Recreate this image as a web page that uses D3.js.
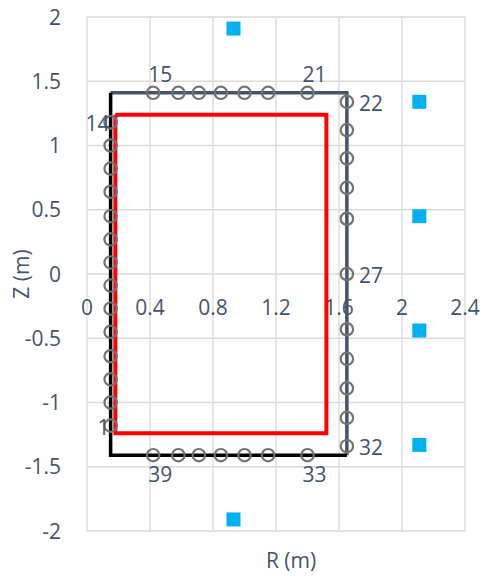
<!DOCTYPE html>
<html>
<head>
<meta charset="utf-8">
<script src="https://cdnjs.cloudflare.com/ajax/libs/d3/7.8.5/d3.min.js"></script>
<style>
  body { margin: 0; background: #fff; }
  text { font-family: "Open Sans", "Noto Sans", sans-serif; fill: #44546a; }
</style>
</head>
<body>
<svg></svg>
<script>
var width = 484, height = 579;

// axis ticks
var xTicks = [0, 0.4, 0.8, 1.2, 1.6, 2, 2.4];
var yTicks = [-2, -1.5, -1, -0.5, 0, 0.5, 1, 1.5, 2];

// vessel wall outline (two series) and plasma box
var wallTop = [[0.15, 1.41], [1.65, 1.41], [1.65, -1.41]];
var wallBottom = [[0.15, 1.41], [0.15, -1.41], [1.65, -1.41]];
var plasmaBox = [[0.18, 1.24], [1.52, 1.24], [1.52, -1.24], [0.18, -1.24], [0.18, 1.24]];

// probes: [id, R, Z]
var probesLeft = [
  [1, 0.15, -1.18], [2, 0.15, -1.0], [3, 0.15, -0.82], [4, 0.15, -0.64], [5, 0.15, -0.45],
  [6, 0.15, -0.27], [7, 0.15, -0.09], [8, 0.15, 0.09], [9, 0.15, 0.27], [10, 0.15, 0.45],
  [11, 0.15, 0.64], [12, 0.15, 0.82], [13, 0.15, 1.0], [14, 0.15, 1.18]
];
var probesTop = [
  [15, 0.42, 1.41], [16, 0.58, 1.41], [17, 0.71, 1.41], [18, 0.85, 1.41],
  [19, 1.0, 1.41], [20, 1.15, 1.41], [21, 1.40, 1.41]
];
var probesRight = [
  [22, 1.65, 1.34], [23, 1.65, 1.12], [24, 1.65, 0.90], [25, 1.65, 0.67], [26, 1.65, 0.43],
  [27, 1.65, 0], [28, 1.65, -0.43], [29, 1.65, -0.66], [30, 1.65, -0.89], [31, 1.65, -1.12],
  [32, 1.65, -1.34]
];
var probesBottom = [
  [33, 1.40, -1.41], [34, 1.15, -1.41], [35, 1.0, -1.41], [36, 0.85, -1.41],
  [37, 0.71, -1.41], [38, 0.58, -1.41], [39, 0.42, -1.41]
];

// coils
var coils = [[0.93, 1.91], [2.11, 1.34], [2.11, 0.45], [2.11, -0.44], [2.11, -1.33], [0.93, -1.91]];

// which probes get a label
var labelled = [1, 14, 15, 21, 22, 27, 32, 33, 39];

var x = d3.scaleLinear().domain([0, 2.4]).range([87, 465]);
var y = d3.scaleLinear().domain([-2, 2]).range([531, 17]);

var svg = d3.select("svg").attr("width", width).attr("height", height);

// grid
svg.append("g").selectAll("line").data(xTicks).enter().append("line")
  .attr("x1", function(d) { return x(d); }).attr("x2", function(d) { return x(d); })
  .attr("y1", y(2)).attr("y2", y(-2))
  .attr("stroke", "#d9d9d9").attr("stroke-width", 1.3);
svg.append("g").selectAll("line").data(yTicks).enter().append("line")
  .attr("y1", function(d) { return y(d); }).attr("y2", function(d) { return y(d); })
  .attr("x1", x(0)).attr("x2", x(2.4))
  .attr("stroke", "#d9d9d9").attr("stroke-width", 1.3);

// tick labels
svg.append("g").selectAll("text").data(yTicks).enter().append("text")
  .attr("x", 61).attr("y", function(d) { return y(d); })
  .attr("dy", "0.36em").attr("text-anchor", "end")
  .style("font-size", "21px")
  .text(function(d) { return d; });
svg.append("g").selectAll("text").data(xTicks).enter().append("text")
  .attr("x", function(d) { return x(d); }).attr("y", y(0) + 41)
  .attr("text-anchor", "middle")
  .style("font-size", "21px")
  .text(function(d) { return d; });

// axis titles
svg.append("text").attr("x", 291).attr("y", 568).attr("text-anchor", "middle")
  .style("font-size", "21px").text("R (m)");
svg.append("text").attr("transform", "translate(29," + y(0) + ") rotate(-90)")
  .attr("text-anchor", "middle").style("font-size", "21px").text("Z (m)");

var line = d3.line()
  .x(function(d) { return x(d[0]); })
  .y(function(d) { return y(d[1]); });

svg.append("path").datum(plasmaBox).attr("d", line)
  .attr("fill", "none").attr("stroke", "#ff0000").attr("stroke-width", 4);
svg.append("path").datum(wallTop).attr("d", line)
  .attr("fill", "none").attr("stroke", "#44546a").attr("stroke-width", 3.5);
svg.append("path").datum(wallBottom).attr("d", line)
  .attr("fill", "none").attr("stroke", "#000000").attr("stroke-width", 3.5);

var probes = probesLeft.concat(probesTop, probesRight, probesBottom);

svg.append("g").selectAll("circle").data(probes).enter().append("circle")
  .attr("cx", function(d) { return x(d[1]); })
  .attr("cy", function(d) { return y(d[2]); })
  .attr("r", 6.2)
  .attr("fill", "none").attr("stroke", "#767171").attr("stroke-width", 2.2);

svg.append("g").selectAll("rect").data(coils).enter().append("rect")
  .attr("x", function(d) { return x(d[0]) - 7; })
  .attr("y", function(d) { return y(d[1]) - 7; })
  .attr("width", 14).attr("height", 14)
  .attr("fill", "#00b0f0");

// data labels: left side -> left, top -> above, right -> right, bottom -> below
svg.append("g").selectAll("text")
  .data(probes.filter(function(d) { return labelled.indexOf(d[0]) >= 0; }))
  .enter().append("text")
  .style("font-size", "21px")
  .attr("text-anchor", function(d) {
    if (d[0] <= 14) return "end";
    if (d[0] >= 22 && d[0] <= 32) return "start";
    return "middle";
  })
  .attr("x", function(d) {
    var px = x(d[1]);
    if (d[0] <= 14) return px - 1;
    if (d[0] >= 22 && d[0] <= 32) return px + 12;
    return px + 7;
  })
  .attr("y", function(d) {
    var py = y(d[2]);
    if (d[0] >= 15 && d[0] <= 21) return py - 11;
    if (d[0] >= 33) return py + 27;
    return py + 9;
  })
  .text(function(d) { return d[0]; });
</script>
</body>
</html>
